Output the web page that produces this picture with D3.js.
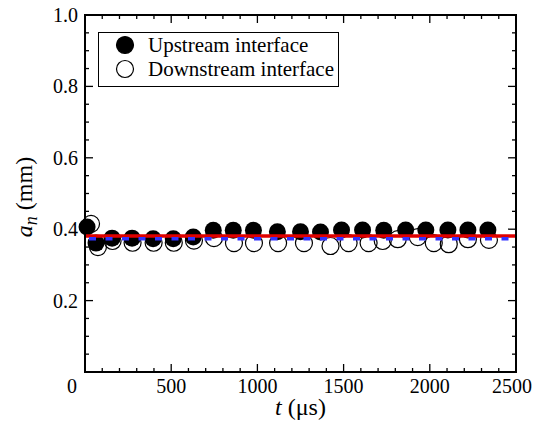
<!DOCTYPE html>
<html>
<head>
<meta charset="utf-8">
<script src="https://cdn.jsdelivr.net/npm/d3@7"></script>
<style>
  body { margin: 0; background: #fff; }
  svg { display: block; }
</style>
</head>
<body>
<svg id="chart"></svg>
<script>
// measured times (us) and amplitudes (mm)
const upTime = [12, 64, 157, 273, 395, 512, 628, 744, 860, 977, 1116, 1250, 1366, 1488, 1610, 1733, 1860, 1977, 2105, 2221, 2337];
const upAmp = [0.406, 0.361, 0.375, 0.375, 0.373, 0.373, 0.378, 0.397, 0.397, 0.397, 0.393, 0.393, 0.392, 0.398, 0.398, 0.397, 0.398, 0.398, 0.398, 0.398, 0.398];
const downTime = [35, 75, 160, 276, 398, 515, 632, 748, 864, 980, 1120, 1270, 1424, 1529, 1645, 1727, 1814, 1930, 2023, 2110, 2221, 2343];
const downAmp = [0.415, 0.35, 0.367, 0.362, 0.362, 0.362, 0.368, 0.375, 0.361, 0.361, 0.361, 0.361, 0.353, 0.361, 0.361, 0.367, 0.372, 0.378, 0.361, 0.358, 0.372, 0.37];
const upFit = 0.381;
const downFit = 0.373;
const xTicks = [500, 1000, 1500, 2000, 2500];
const yTicks = [0.2, 0.4, 0.6, 0.8, 1.0];
const legendLabels = ["Upstream interface", "Downstream interface"];

const width = 535, height = 434;
const margin = {top: 15, right: 19, bottom: 62, left: 85};
const serif = "Liberation Serif, DejaVu Serif, Tinos, Times, serif";

const svg = d3.select("#chart").attr("width", width).attr("height", height)
    .style("font-family", serif);

const x = d3.scaleLinear().domain([0, 2500]).range([margin.left, width - margin.right]);
const y = d3.scaleLinear().domain([0, 1]).range([height - margin.bottom, margin.top]);

const x0 = x(0), x1 = x(2500), y0 = y(0), y1 = y(1);

// ticks (inside, mirrored)
const ticks = svg.append("g").attr("stroke", "#000").attr("stroke-width", 1.3);
d3.range(100, 2500, 100).forEach(t => {
    const len = t % 500 === 0 ? 8 : 4;
    ticks.append("line").attr("x1", x(t)).attr("x2", x(t)).attr("y1", y0).attr("y2", y0 - len);
    ticks.append("line").attr("x1", x(t)).attr("x2", x(t)).attr("y1", y1).attr("y2", y1 + len);
});
d3.range(1, 20).map(i => i * 0.05).forEach(v => {
    const len = isMajor(v) ? 8 : 4;
    ticks.append("line").attr("y1", y(v)).attr("y2", y(v)).attr("x1", x0).attr("x2", x0 + len);
    ticks.append("line").attr("y1", y(v)).attr("y2", y(v)).attr("x1", x1).attr("x2", x1 - len);
});
function isMajor(v) { return Math.abs(v * 5 - Math.round(v * 5)) < 1e-6; }

// tick labels
svg.append("g").selectAll("text").data(xTicks).join("text")
    .attr("x", d => x(d)).attr("y", y0 + 21)
    .attr("dx", d => d === 2500 ? -4 : 0)
    .attr("text-anchor", "middle").attr("font-size", 20)
    .text(d => d);
svg.append("g").selectAll("text").data(yTicks).join("text")
    .attr("x", x0 - 7).attr("y", d => y(d) + 7)
    .attr("text-anchor", "end").attr("font-size", 20)
    .text(d => d3.format(".1f")(d));
svg.append("text").attr("x", x0 - 13).attr("y", y0 + 21)
    .attr("text-anchor", "middle").attr("font-size", 20).text("0");

// axis titles
const xt = svg.append("text").attr("x", (x0 + x1) / 2).attr("y", 415)
    .attr("text-anchor", "middle").attr("font-size", 24);
xt.append("tspan").attr("font-style", "italic").text("t");
xt.append("tspan").text(" (\u03bcs)");

const yt = svg.append("text")
    .attr("transform", `translate(32,197) rotate(-90)`)
    .attr("text-anchor", "middle").attr("font-size", 24);
yt.append("tspan").attr("font-style", "italic").text("a");
yt.append("tspan").attr("font-style", "italic").attr("font-size", 18).attr("dy", 5).text("n");
yt.append("tspan").attr("dy", -5).text(" (mm)");

// data points
const r = 8.5;
svg.append("g").selectAll("circle").data(downTime).join("circle")
    .attr("cx", d => x(d)).attr("cy", (d, i) => y(downAmp[i])).attr("r", r)
    .attr("fill", "none").attr("stroke", "#000").attr("stroke-width", 1.2);
svg.append("g").selectAll("circle").data(upTime).join("circle")
    .attr("cx", d => x(d)).attr("cy", (d, i) => y(upAmp[i])).attr("r", r)
    .attr("fill", "#000");

// fit lines
svg.append("line").attr("x1", x0).attr("x2", x1).attr("y1", y(upFit)).attr("y2", y(upFit))
    .attr("stroke", "#e00000").attr("stroke-width", 3.5);
svg.append("line").attr("x1", x0 + 4).attr("x2", x1).attr("y1", y(downFit)).attr("y2", y(downFit))
    .attr("stroke", "#3333ff").attr("stroke-width", 3.5).attr("stroke-dasharray", "7,9.5");

// frame
svg.append("rect").attr("x", x0).attr("y", y1).attr("width", x1 - x0).attr("height", y0 - y1)
    .attr("fill", "none").attr("stroke", "#000").attr("stroke-width", 2);

// legend
const lg = svg.append("g");
lg.append("rect").attr("x", 98.5).attr("y", 32.5).attr("width", 240).attr("height", 54)
    .attr("fill", "#fff").attr("stroke", "#000").attr("stroke-width", 1);
legendLabels.forEach((lab, i) => {
    const cy = 45 + i * 24;
    lg.append("circle").attr("cx", 125).attr("cy", cy).attr("r", 8.5)
        .attr("fill", i === 0 ? "#000" : "#fff").attr("stroke", "#000").attr("stroke-width", 1.2);
    lg.append("text").attr("x", 148).attr("y", cy + 7).attr("font-size", 21).text(lab);
});
</script>
</body>
</html>
